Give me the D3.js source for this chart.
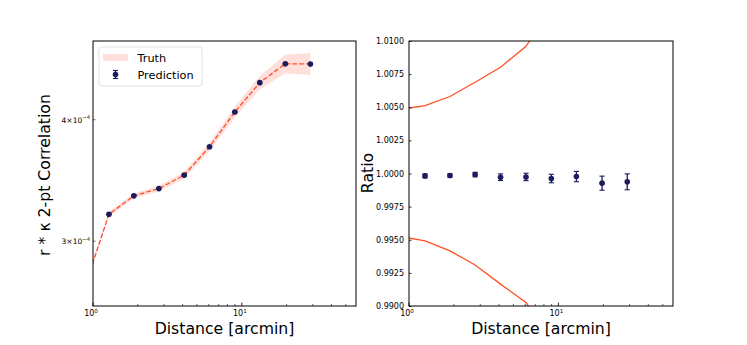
<!DOCTYPE html>
<html>
<head>
  <meta charset="utf-8">
  <title>Correlation vs distance</title>
  <script src="https://d3js.org/d3.v7.min.js"></script>
  <style>
    body { margin: 0; background: #fff; }
    text { font-family: "DejaVu Sans", sans-serif; fill: #000; }
  </style>
</head>
<body>
<svg id="chart" width="747" height="345"></svg>
<script>
// distance bins (arcmin); the first truth bin sits left of the visible range
var truthDist = [0.865, 1.28, 1.88, 2.77, 4.10, 6.07, 8.97, 13.2, 19.6, 28.9]
var truthValues = [2.67e-4, 3.198e-4, 3.34e-4, 3.398e-4, 3.508e-4, 3.752e-4, 4.074e-4, 4.367e-4, 4.567e-4, 4.565e-4]
// truth band edges as a ratio to the truth value
var truthUpper = [1.00483, 1.00513, 1.00581, 1.00689, 1.00802, 1.0096, 1.0125, 1.016, 1.0216, 1.0264]
var truthLower = [0.99526, 0.99491, 0.99416, 0.9931, 0.99165, 0.99026, 0.9875, 0.984, 0.978, 0.974]

var predDist = [1.28, 1.88, 2.77, 4.10, 6.07, 8.97, 13.2, 19.6, 28.9]
var predValues = [3.198e-4, 3.34e-4, 3.398e-4, 3.508e-4, 3.752e-4, 4.074e-4, 4.367e-4, 4.567e-4, 4.565e-4]
var predRatio = [0.99982, 0.99985, 0.99992, 0.99972, 0.99974, 0.99962, 0.99977, 0.99927, 0.99937]
var predRatioErr = [0.00015, 0.00013, 0.00017, 0.00025, 0.00028, 0.00032, 0.00039, 0.00053, 0.0006]

var xTicks = [1, 10]
var yTicksLeft = [3e-4, 4e-4]
var yTicksRight = [0.99, 0.9925, 0.995, 0.9975, 1.0, 1.0025, 1.005, 1.0075, 1.01]

var truthColor = '#ff4f24'
var bandColor = 'salmon'
var predColor = '#1b1b5e'

var svg = d3.select('#chart')
var plotTop = 41, plotBottom = 306

var defs = svg.append('defs')

function minorTicks() {
  var t = []
  for (var d = 1; d <= 10; d *= 10)
    for (var k = 2; k <= 9; k++) t.push(k * d)
  return t.filter(function (v) { return v < 58.5 })
}

function xAxisTicks(g, x) {
  // matplotlib-style inward ticks on the bottom spine
  g.selectAll('.maj').data(xTicks).enter().append('line')
    .attr('x1', x).attr('x2', x).attr('y1', plotBottom).attr('y2', plotBottom - 3.5)
    .attr('stroke', '#000').attr('stroke-width', 0.8)
  g.selectAll('.min').data(minorTicks()).enter().append('line')
    .attr('x1', x).attr('x2', x).attr('y1', plotBottom).attr('y2', plotBottom - 2)
    .attr('stroke', '#000').attr('stroke-width', 0.6)
  var lab = g.selectAll('.xl').data(xTicks).enter().append('text')
    .attr('x', function (d) { return x(d) - 2 }).attr('y', plotBottom + 10)
    .attr('text-anchor', 'middle').style('font-size', '8px')
  lab.append('tspan').text('10')
  lab.append('tspan').attr('dy', -3.5).style('font-size', '5.6px')
    .text(function (d) { return Math.round(Math.log10(d)) })
}

function panel(x0, x1, name) {
  var x = d3.scaleLog().domain([1, 58.5]).range([x0, x1])
  var g = svg.append('g')
  defs.append('clipPath').attr('id', 'clip-' + name)
    .append('rect').attr('x', x0).attr('y', plotTop).attr('width', x1 - x0).attr('height', plotBottom - plotTop)
  return { x: x, g: g, clip: 'url(#clip-' + name + ')', x0: x0, x1: x1 }
}

function frame(p) {
  p.g.append('rect').attr('x', p.x0).attr('y', plotTop)
    .attr('width', p.x1 - p.x0).attr('height', plotBottom - plotTop)
    .attr('fill', 'none').attr('stroke', '#000').attr('stroke-width', 1)
}

function errorBars(g, xs, ys, lo, hi, x, y) {
  var eb = g.append('g')
  xs.forEach(function (d, i) {
    var cx = x(d)
    eb.append('line').attr('x1', cx).attr('x2', cx).attr('y1', y(lo[i])).attr('y2', y(hi[i]))
      .attr('stroke', predColor).attr('stroke-width', 1.3)
    ;[lo[i], hi[i]].forEach(function (v) {
      eb.append('line').attr('x1', cx - 2.6).attr('x2', cx + 2.6).attr('y1', y(v)).attr('y2', y(v))
        .attr('stroke', predColor).attr('stroke-width', 1.1)
    })
    eb.append('circle').attr('cx', cx).attr('cy', y(ys[i])).attr('r', 2.8).attr('fill', predColor)
  })
}

// ---- left panel
var L = panel(93, 356, 'left')
var yL = d3.scaleLog().domain([2.573e-4, 4.82e-4]).range([plotBottom, plotTop])
var plotL = L.g.append('g').attr('clip-path', L.clip)

var band = d3.area()
  .x(function (d, i) { return L.x(truthDist[i]) })
  .y0(function (d, i) { return yL(d * truthLower[i]) })
  .y1(function (d, i) { return yL(d * truthUpper[i]) })
plotL.append('path').datum(truthValues).attr('d', band)
  .attr('fill', bandColor).attr('fill-opacity', 0.25)

var line = d3.line()
  .x(function (d, i) { return L.x(truthDist[i]) })
  .y(function (d) { return yL(d) })
plotL.append('path').datum(truthValues).attr('d', line)
  .attr('fill', 'none').attr('stroke', truthColor).attr('stroke-width', 1.3)
  .attr('stroke-dasharray', '4.8,2.1')

errorBars(plotL, predDist, predValues,
  predValues.map(function (v, i) { return v * (1 - predRatioErr[i]) }),
  predValues.map(function (v, i) { return v * (1 + predRatioErr[i]) }), L.x, yL)

frame(L)
xAxisTicks(L.g, L.x)

yTicksLeft.forEach(function (v) {
  L.g.append('line').attr('x1', 93).attr('x2', 95.5).attr('y1', yL(v)).attr('y2', yL(v))
    .attr('stroke', '#000').attr('stroke-width', 0.6)
  var t = L.g.append('text').attr('x', 90).attr('y', yL(v) + 2.8)
    .attr('text-anchor', 'end').style('font-size', '7.5px')
  t.append('tspan').text(Math.round(v * 1e4) + '\u00d710')
  t.append('tspan').attr('dy', -3.3).style('font-size', '5.3px').text('\u22124')
})

// ---- right panel
var R = panel(409, 673, 'right')
var yR = d3.scaleLinear().domain([0.99, 1.01]).range([plotBottom, plotTop])
var plotR = R.g.append('g').attr('clip-path', R.clip)

;[truthUpper, truthLower].forEach(function (arr) {
  plotR.append('path').datum(arr)
    .attr('d', d3.line()
      .x(function (d, i) { return R.x(truthDist[i]) })
      .y(function (d) { return yR(d) }))
    .attr('fill', 'none').attr('stroke', truthColor).attr('stroke-width', 1.3)
})

errorBars(plotR, predDist, predRatio,
  predRatio.map(function (v, i) { return v - predRatioErr[i] }),
  predRatio.map(function (v, i) { return v + predRatioErr[i] }), R.x, yR)

frame(R)
xAxisTicks(R.g, R.x)

var yAxisR = d3.axisLeft(yR).tickValues(yTicksRight).tickFormat(d3.format('.4f'))
  .tickSizeInner(-2.5).tickSizeOuter(0).tickPadding(5)
var gyR = R.g.append('g').attr('transform', 'translate(409,0)').call(yAxisR)
gyR.select('.domain').remove()
gyR.selectAll('text').style('font-size', '8px').style('font-family', '"DejaVu Sans", sans-serif')
gyR.selectAll('line').attr('stroke-width', 0.8)

// ---- axis labels
svg.append('text').attr('x', 224.5).attr('y', 334).attr('text-anchor', 'middle')
  .style('font-size', '15.7px').text('Distance [arcmin]')
svg.append('text').attr('x', 541).attr('y', 334).attr('text-anchor', 'middle')
  .style('font-size', '15.7px').text('Distance [arcmin]')
svg.append('text').attr('transform', 'translate(50,175) rotate(-90)').attr('text-anchor', 'middle')
  .style('font-size', '15.7px').text('r * \u03ba 2-pt Correlation')
svg.append('text').attr('transform', 'translate(373,173) rotate(-90)').attr('text-anchor', 'middle')
  .style('font-size', '15.7px').text('Ratio')

// ---- legend
var leg = svg.append('g')
leg.append('rect').attr('x', 99).attr('y', 47).attr('width', 103).attr('height', 39).attr('rx', 2.5)
  .attr('fill', '#fff').attr('fill-opacity', 0.8).attr('stroke', '#d9d9d9').attr('stroke-width', 0.8)
leg.append('rect').attr('x', 103).attr('y', 54).attr('width', 25).attr('height', 7)
  .attr('fill', bandColor).attr('fill-opacity', 0.25)
leg.append('text').attr('x', 137.5).attr('y', 61.5).style('font-size', '11.3px').text('Truth')
var lx = 115.5, ly = 74.5
leg.append('line').attr('x1', lx).attr('x2', lx).attr('y1', ly - 4).attr('y2', ly + 4)
  .attr('stroke', predColor).attr('stroke-width', 1.3)
;[ly - 4, ly + 4].forEach(function (v) {
  leg.append('line').attr('x1', lx - 2.6).attr('x2', lx + 2.6).attr('y1', v).attr('y2', v)
    .attr('stroke', predColor).attr('stroke-width', 1.1)
})
leg.append('circle').attr('cx', lx).attr('cy', ly).attr('r', 2.8).attr('fill', predColor)
leg.append('text').attr('x', 137.5).attr('y', 78.5).style('font-size', '11.3px').text('Prediction')
</script>
</body>
</html>
